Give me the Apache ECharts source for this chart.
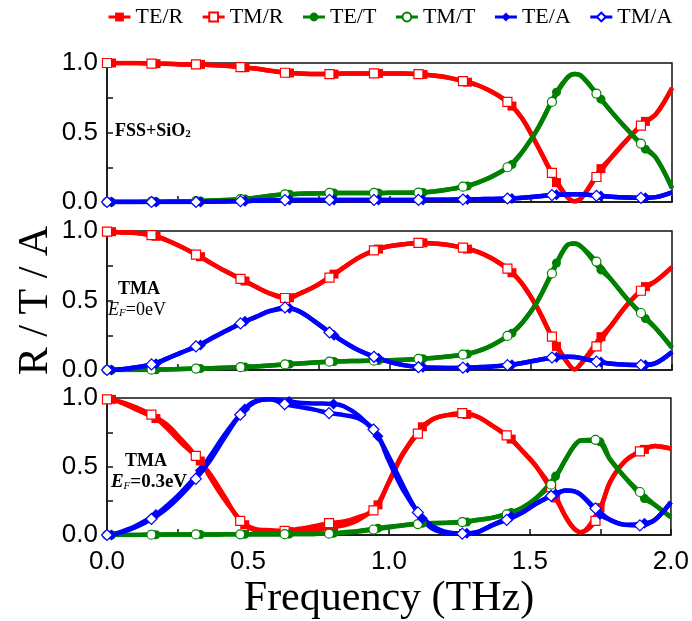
<!DOCTYPE html>
<html>
<head>
<meta charset="utf-8">
<title>R / T / A</title>
<script src="https://cdn.jsdelivr.net/npm/echarts@6/dist/echarts.min.js"></script>
<style>
  html, body { margin: 0; padding: 0; background: #fff; }
  #main { width: 692px; height: 621px; }
</style>
</head>
<body>
<div id="main"></div>
<script>
// legend names, in drawing order
var seriesNames = ['TE/R', 'TM/R', 'TE/T', 'TM/T', 'TE/A', 'TM/A'];
var majorTicks = [0, 0.5, 1, 1.5, 2];

// frequency samples (THz); TE markers sit a little to the right of the TM ones
var freqTM = [0, 0.0525, 0.105, 0.1575, 0.21, 0.2625, 0.315, 0.3675, 0.42, 0.4725,
  0.525, 0.5775, 0.63, 0.6825, 0.735, 0.7875, 0.84, 0.8925, 0.945, 0.9975,
  1.05, 1.1025, 1.155, 1.2075, 1.26, 1.3125, 1.365, 1.4175, 1.47, 1.5225,
  1.575, 1.6275, 1.655, 1.68, 1.7325, 1.785, 1.8375, 1.89, 1.9425, 2.0];
var freqTE = [0.016, 0.0525, 0.105, 0.1735, 0.21, 0.2625, 0.331, 0.3675, 0.42, 0.4885,
  0.525, 0.5775, 0.646, 0.6825, 0.735, 0.8035, 0.84, 0.8925, 0.961, 0.9975,
  1.05, 1.1185, 1.155, 1.2075, 1.276, 1.3125, 1.365, 1.4335, 1.47, 1.5225,
  1.591, 1.6275, 1.655, 1.68, 1.7485, 1.785, 1.8375, 1.906, 1.9425, 2.0];
// where the symbols are drawn
var markTM = [0, 0.1575, 0.315, 0.4725, 0.63, 0.7875, 0.945, 1.1025, 1.26, 1.4175, 1.575, 1.7325, 1.89];
var markTE = [0.016, 0.1735, 0.331, 0.4885, 0.646, 0.8035, 0.961, 1.1185, 1.276, 1.4335, 1.591, 1.7485, 1.906];

//  ===== panel 1 : FSS+SiO2 =====
var fssTeR = [1.0, 1.0, 1.0, 0.995, 0.995, 0.99, 0.99, 0.985, 0.98, 0.967,
  0.96, 0.945, 0.928, 0.925, 0.92, 0.92, 0.925, 0.925, 0.925, 0.925,
  0.925, 0.918, 0.91, 0.895, 0.862, 0.84, 0.79, 0.69, 0.6, 0.41,
  0.14, 0.04, 0.005, 0.03, 0.24, 0.32, 0.44, 0.58, 0.63, 0.82];
var fssTmR = [1.0, 1.0, 1.0, 0.995, 0.995, 0.99, 0.99, 0.985, 0.98, 0.97,
  0.96, 0.945, 0.93, 0.925, 0.92, 0.92, 0.925, 0.925, 0.925, 0.925,
  0.925, 0.92, 0.91, 0.895, 0.87, 0.84, 0.79, 0.72, 0.6, 0.41,
  0.21, 0.04, 0.005, 0.03, 0.18, 0.32, 0.44, 0.55, 0.63, 0.82];
var fssTeT = [0, 0, 0, 0.002, 0.003, 0.005, 0.007, 0.01, 0.015, 0.022,
  0.03, 0.045, 0.056, 0.06, 0.062, 0.065, 0.065, 0.065, 0.065, 0.066,
  0.067, 0.068, 0.075, 0.09, 0.115, 0.14, 0.185, 0.27, 0.36, 0.52,
  0.79, 0.89, 0.92, 0.905, 0.74, 0.65, 0.53, 0.38, 0.32, 0.1];
var fssTmT = [0, 0, 0, 0.002, 0.003, 0.005, 0.007, 0.01, 0.015, 0.02,
  0.03, 0.045, 0.055, 0.06, 0.062, 0.065, 0.065, 0.065, 0.065, 0.066,
  0.067, 0.068, 0.075, 0.09, 0.11, 0.14, 0.185, 0.25, 0.36, 0.52,
  0.72, 0.89, 0.92, 0.905, 0.78, 0.65, 0.53, 0.42, 0.32, 0.1];
var fssTeA = [0, 0, 0, 0, 0, 0, 0, 0.002, 0.004, 0.006,
  0.01, 0.012, 0.014, 0.015, 0.015, 0.015, 0.015, 0.015, 0.015, 0.015,
  0.015, 0.015, 0.016, 0.017, 0.018, 0.02, 0.022, 0.025, 0.03, 0.04,
  0.052, 0.055, 0.056, 0.055, 0.044, 0.038, 0.033, 0.03, 0.035, 0.07];
var fssTmA = [0, 0, 0, 0, 0, 0, 0, 0.002, 0.004, 0.006,
  0.01, 0.012, 0.014, 0.015, 0.015, 0.015, 0.015, 0.015, 0.015, 0.015,
  0.015, 0.015, 0.016, 0.017, 0.018, 0.02, 0.022, 0.025, 0.03, 0.04,
  0.05, 0.055, 0.056, 0.055, 0.045, 0.038, 0.033, 0.03, 0.035, 0.07];

//  ===== panel 2 : TMA, EF = 0 eV =====
var tma0TeR = [0.995, 0.99, 0.985, 0.962, 0.935, 0.887, 0.815, 0.77, 0.71, 0.64,
  0.6, 0.55, 0.52, 0.55, 0.6, 0.69, 0.74, 0.81, 0.87, 0.89,
  0.905, 0.915, 0.91, 0.9, 0.87, 0.85, 0.8, 0.7, 0.62, 0.45,
  0.17, 0.06, 0.005, 0.05, 0.24, 0.32, 0.46, 0.6, 0.64, 0.74];
var tma0TmR = [0.995, 0.99, 0.985, 0.971, 0.935, 0.887, 0.83, 0.77, 0.71, 0.655,
  0.6, 0.55, 0.518, 0.55, 0.6, 0.665, 0.74, 0.81, 0.86, 0.89,
  0.905, 0.914, 0.91, 0.9, 0.88, 0.85, 0.8, 0.73, 0.62, 0.45,
  0.24, 0.06, 0.005, 0.05, 0.17, 0.32, 0.46, 0.57, 0.64, 0.74];
var tma0TeT = [0, 0, 0, 0.002, 0.004, 0.007, 0.01, 0.013, 0.017, 0.021,
  0.026, 0.033, 0.042, 0.047, 0.054, 0.061, 0.063, 0.065, 0.068, 0.07,
  0.074, 0.081, 0.087, 0.097, 0.115, 0.135, 0.18, 0.265, 0.34, 0.49,
  0.77, 0.895, 0.91, 0.885, 0.72, 0.65, 0.52, 0.37, 0.3, 0.16];
var tma0TmT = [0, 0, 0, 0.002, 0.004, 0.007, 0.01, 0.013, 0.017, 0.02,
  0.026, 0.033, 0.04, 0.047, 0.054, 0.06, 0.063, 0.065, 0.067, 0.07,
  0.074, 0.08, 0.087, 0.097, 0.11, 0.135, 0.18, 0.245, 0.34, 0.49,
  0.695, 0.895, 0.91, 0.885, 0.78, 0.65, 0.52, 0.41, 0.3, 0.16];
var tma0TeA = [0, 0.005, 0.02, 0.045, 0.08, 0.125, 0.18, 0.225, 0.28, 0.35,
  0.38, 0.425, 0.445, 0.42, 0.35, 0.25, 0.2, 0.14, 0.085, 0.06,
  0.035, 0.019, 0.016, 0.015, 0.017, 0.02, 0.026, 0.038, 0.05, 0.07,
  0.092, 0.095, 0.093, 0.085, 0.057, 0.045, 0.038, 0.036, 0.05, 0.13];
var tma0TmA = [0, 0.005, 0.02, 0.04, 0.08, 0.125, 0.17, 0.225, 0.28, 0.335,
  0.38, 0.425, 0.45, 0.42, 0.35, 0.27, 0.2, 0.14, 0.095, 0.06,
  0.035, 0.02, 0.016, 0.015, 0.017, 0.02, 0.026, 0.035, 0.05, 0.07,
  0.09, 0.095, 0.093, 0.085, 0.06, 0.045, 0.038, 0.036, 0.05, 0.13];

//  ===== panel 3 : TMA, EF = 0.3 eV =====
var tma3TeR = [0.99, 0.965, 0.915, 0.85, 0.785, 0.675, 0.54, 0.415, 0.25, 0.075,
  0.035, 0.025, 0.025, 0.028, 0.035, 0.06, 0.07, 0.11, 0.22, 0.38,
  0.6, 0.79, 0.845, 0.875, 0.88, 0.865, 0.8, 0.7, 0.62, 0.5,
  0.27, 0.13, 0.05, 0.02, 0.2, 0.39, 0.54, 0.625, 0.65, 0.63];
var tma3TmR = [0.99, 0.97, 0.93, 0.878, 0.81, 0.7, 0.578, 0.44, 0.27, 0.103,
  0.045, 0.035, 0.03, 0.045, 0.065, 0.086, 0.098, 0.13, 0.18, 0.375,
  0.59, 0.74, 0.845, 0.875, 0.89, 0.865, 0.8, 0.727, 0.62, 0.5,
  0.35, 0.13, 0.05, 0.02, 0.103, 0.39, 0.54, 0.61, 0.65, 0.63];
var tma3TeT = [0, 0, 0, 0.002, 0.003, 0.003, 0.004, 0.004, 0.005, 0.005,
  0.005, 0.005, 0.006, 0.007, 0.008, 0.012, 0.02, 0.03, 0.05, 0.06,
  0.072, 0.085, 0.087, 0.09, 0.095, 0.11, 0.125, 0.165, 0.195, 0.27,
  0.43, 0.555, 0.645, 0.69, 0.68, 0.55, 0.42, 0.266, 0.22, 0.13];
var tma3TmT = [0, 0, 0, 0.002, 0.003, 0.003, 0.004, 0.004, 0.005, 0.005,
  0.005, 0.005, 0.006, 0.007, 0.008, 0.01, 0.015, 0.025, 0.04, 0.055,
  0.07, 0.08, 0.085, 0.09, 0.094, 0.11, 0.125, 0.15, 0.195, 0.27,
  0.367, 0.555, 0.645, 0.69, 0.695, 0.55, 0.42, 0.314, 0.22, 0.13];
var tma3TeA = [0, 0.025, 0.07, 0.15, 0.21, 0.31, 0.47, 0.58, 0.74, 0.92,
  0.975, 0.99, 0.975, 0.965, 0.96, 0.957, 0.94, 0.87, 0.72, 0.55,
  0.33, 0.12, 0.045, 0.015, 0.012, 0.02, 0.07, 0.135, 0.16, 0.23,
  0.3, 0.325, 0.32, 0.295, 0.15, 0.11, 0.074, 0.085, 0.11, 0.24];
var tma3TmA = [0, 0.02, 0.06, 0.117, 0.19, 0.29, 0.41, 0.55, 0.72, 0.878,
  0.97, 0.99, 0.955, 0.935, 0.915, 0.89, 0.875, 0.85, 0.77, 0.58,
  0.36, 0.165, 0.065, 0.02, 0.01, 0.02, 0.07, 0.11, 0.16, 0.23,
  0.285, 0.325, 0.32, 0.295, 0.194, 0.11, 0.074, 0.07, 0.11, 0.24];

var RED = '#ff0000', GREEN = '#008000', BLUE = '#0000ff';
var SERIF = '"Liberation Serif", "Times New Roman", serif';
var SANS = '"Liberation Sans", Arial, sans-serif';

// symbols only at the marker frequencies
function points(xs, ys, marks) {
  return ys.map(function (y, i) {
    var p = [xs[i], y];
    return marks.indexOf(xs[i]) >= 0 ? p : { value: p, symbol: 'none' };
  });
}

function curve(name, panel, te, ys, color, symbol) {
  return {
    name: name,
    type: 'line',
    xAxisIndex: panel,
    yAxisIndex: panel,
    data: te ? points(freqTE, ys, markTE) : points(freqTM, ys, markTM),
    smooth: 0.35,
    showSymbol: true,
    showAllSymbol: true,
    symbol: symbol,
    symbolSize: symbol === 'diamond' ? 11 : 9,
    lineStyle: { color: color, width: 4.5 },
    // TE: filled symbols, TM: open symbols
    itemStyle: te ? { color: color } : { color: '#fff', borderColor: color, borderWidth: 1.2 },
    emphasis: { disabled: true },
    silent: true
  };
}

function panelSeries(panel, d) {
  return [
    curve('TE/R', panel, true, d[0], RED, 'rect'),
    curve('TM/R', panel, false, d[1], RED, 'rect'),
    curve('TE/T', panel, true, d[2], GREEN, 'circle'),
    curve('TM/T', panel, false, d[3], GREEN, 'circle'),
    curve('TE/A', panel, true, d[4], BLUE, 'diamond'),
    curve('TM/A', panel, false, d[5], BLUE, 'diamond')
  ];
}

var series = [].concat(
  panelSeries(0, [fssTeR, fssTmR, fssTeT, fssTmT, fssTeA, fssTmA]),
  panelSeries(1, [tma0TeR, tma0TmR, tma0TeT, tma0TmT, tma0TeA, tma0TmA]),
  panelSeries(2, [tma3TeR, tma3TmR, tma3TeT, tma3TmT, tma3TeA, tma3TmA])
);

var panelTops = [63, 231, 398];

function tickLabel(v) {
  return majorTicks.indexOf(v) >= 0 ? v.toFixed(1) : '';
}

function xAxisFor(i) {
  var last = i === 2;
  return {
    type: 'value', gridIndex: i, min: 0, max: 2, interval: 0.25,
    axisLine: { show: true, lineStyle: { color: '#111', width: 1.5 } },
    axisTick: { show: true, inside: true, length: 6, lineStyle: { color: '#111', width: 1.5 } },
    splitLine: { show: false },
    axisLabel: { show: last, margin: 14, color: '#000', fontFamily: SANS, fontSize: 26, formatter: tickLabel },
    name: last ? 'Frequency (THz)' : '',
    nameLocation: 'middle',
    nameGap: 43,
    nameTextStyle: { fontFamily: SERIF, fontSize: 42, color: '#000' }
  };
}

function yAxisFor(i) {
  return {
    type: 'value', gridIndex: i, min: 0, max: 1, interval: 0.25,
    axisLine: { show: true, lineStyle: { color: '#111', width: 1.5 } },
    axisTick: { show: true, inside: true, length: 6, lineStyle: { color: '#111', width: 1.5 } },
    splitLine: { show: false },
    axisLabel: { margin: 9, color: '#000', fontFamily: SANS, fontSize: 26, formatter: tickLabel },
    name: i === 1 ? 'R / T / A' : '',
    nameLocation: 'middle',
    nameGap: 50,
    nameMoveOverlap: false,
    nameTextStyle: { fontFamily: SERIF, fontSize: 42, color: '#000' }
  };
}

var myChart = echarts.init(document.getElementById('main'), null, { renderer: 'canvas' });

var option = {
  animation: false,
  backgroundColor: '#fff',
  legend: {
    top: 1,
    left: 102,
    itemWidth: 22,
    itemHeight: 11,
    itemGap: 18,
    selectedMode: false,
    textStyle: { fontFamily: SERIF, fontSize: 22, color: '#000' },
    lineStyle: { width: 3 },
    data: seriesNames
  },
  grid: panelTops.map(function (t) {
    return { left: 107, top: t, width: 565, height: 139, show: true,
      borderColor: '#111', borderWidth: 1.5, backgroundColor: 'transparent' };
  }),
  xAxis: [0, 1, 2].map(xAxisFor),
  yAxis: [0, 1, 2].map(yAxisFor),
  graphic: [
    { type: 'text', x: 115, y: 131, z: 100,
      style: { text: '{b|FSS+SiO}{s|2}', textVerticalAlign: 'middle',
        rich: { b: { fontFamily: SERIF, fontWeight: 'bold', fontSize: 18, fill: '#000' },
                s: { fontFamily: SERIF, fontWeight: 'bold', fontSize: 11, fill: '#000', verticalAlign: 'bottom', padding: [6, 0, 0, 0] } } } },
    { type: 'text', x: 139, y: 289, z: 100,
      style: { text: 'TMA', textAlign: 'center', textVerticalAlign: 'middle',
        fontFamily: SERIF, fontWeight: 'bold', fontSize: 18, fill: '#000' } },
    { type: 'text', x: 137, y: 310, z: 100,
      style: { text: '{i|E}{s|F}{n|=0eV}', textAlign: 'center', textVerticalAlign: 'middle',
        rich: { i: { fontFamily: SERIF, fontStyle: 'italic', fontSize: 18, fill: '#000' },
                s: { fontFamily: SERIF, fontStyle: 'italic', fontSize: 11, fill: '#000', verticalAlign: 'bottom', padding: [6, 0, 0, 0] },
                n: { fontFamily: SERIF, fontSize: 18, fill: '#000' } } } },
    { type: 'text', x: 146, y: 461, z: 100,
      style: { text: 'TMA', textAlign: 'center', textVerticalAlign: 'middle',
        fontFamily: SERIF, fontWeight: 'bold', fontSize: 18, fill: '#000' } },
    { type: 'text', x: 149, y: 482, z: 100,
      style: { text: '{i|E}{s|F}{n|=0.3eV}', textAlign: 'center', textVerticalAlign: 'middle',
        rich: { i: { fontFamily: SERIF, fontStyle: 'italic', fontWeight: 'bold', fontSize: 19, fill: '#000' },
                s: { fontFamily: SERIF, fontStyle: 'italic', fontSize: 11, fill: '#000', verticalAlign: 'bottom', padding: [6, 0, 0, 0] },
                n: { fontFamily: SERIF, fontWeight: 'bold', fontSize: 19, fill: '#000' } } } }
  ],
  series: series
};

myChart.setOption(option);
</script>
</body>
</html>
